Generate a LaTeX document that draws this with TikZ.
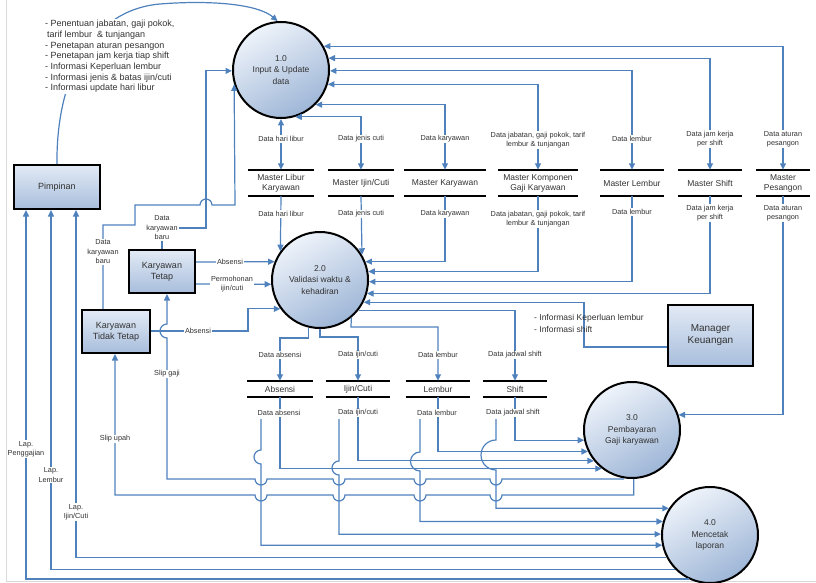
\documentclass[tikz,border=0pt]{standalone}
\usepackage{fontspec}
\setmainfont{Liberation Sans}
\usetikzlibrary{arrows.meta}
\definecolor{flowc}{RGB}{79,129,189}
\definecolor{txtc}{RGB}{50,50,50}
\definecolor{cirA}{RGB}{238,243,250}
\definecolor{cirB}{RGB}{158,182,215}
\definecolor{boxA}{RGB}{226,234,245}
\definecolor{boxB}{RGB}{168,190,220}
\begin{document}
\begin{tikzpicture}[x=1pt,y=-1pt,
  flow/.style={draw=flowc, line width=1.2pt},
  arr/.style={flow, -{Triangle[length=6.5pt,width=6pt]}},
  arrb/.style={flow, {Triangle[length=6.5pt,width=6pt]}-{Triangle[length=6.5pt,width=6pt]}},
  proc/.style={circle, draw=black, line width=2pt, minimum size=96pt, inner sep=0pt, align=center,
    font=\fontsize{8.5}{11.5}\selectfont, text=txtc, top color=cirA, bottom color=cirB, shading angle=30},
  ent/.style={rectangle, draw=black, line width=2.2pt, inner sep=0pt, align=center,
    font=\fontsize{9}{11}\selectfont, text=txtc, top color=boxA, bottom color=boxB},
  store/.style={inner sep=0pt, align=center, font=\fontsize{8.5}{10}\selectfont, text=txtc},
  lbl/.style={fill=white, inner sep=1pt, align=center, font=\fontsize{7.3}{9.5}\selectfont, text=txtc},
  sline/.style={draw=black, line width=2.2pt},
]
\useasboundingbox (0,0) rectangle (816,583);
\draw[gray!30, line width=1pt] (6,0) -- (6,581) -- (816,581);

% processes
\node[proc] (p1) at (281,70) {1.0\\Input \& Update\\data};
\node[proc] (p2) at (320,280) {2.0\\Validasi waktu \&\\kehadiran};
\node[proc] (p3) at (632,430) {3.0\\Pembayaran\\Gaji karyawan};
\node[proc] (p4) at (710,535) {4.0\\Mencetak\\laporan};

% entities
\node[ent, minimum width=86pt, minimum height=44pt] (pim) at (57,187) {Pimpinan};
\node[ent, minimum width=66pt, minimum height=43pt] (kt) at (162,271.5) {Karyawan\\Tetap};
\node[ent, minimum width=68pt, minimum height=43pt] (ktt) at (116,331.5) {Karyawan\\Tidak Tetap};
\node[ent, minimum width=85pt, minimum height=61pt, font=\fontsize{10}{12}\selectfont] (mk) at (710.5,335.5) {Manager\\Keuangan};

% stores
\node[store, minimum width=66pt, minimum height=26pt] (ms1) at (281,183) {Master Libur\\Karyawan};
\node[store, minimum width=65pt, minimum height=26pt] (ms2) at (361,183) {Master Ijin/Cuti};
\node[store, minimum width=81pt, minimum height=26pt] (ms3) at (445,183) {Master Karyawan};
\node[store, minimum width=79pt, minimum height=26pt] (ms4) at (538,183) {Master Komponen\\Gaji Karyawan};
\node[store, minimum width=64pt, minimum height=26pt] (ms5) at (632,183) {Master Lembur};
\node[store, minimum width=64pt, minimum height=26pt] (ms6) at (710,183) {Master Shift};
\node[store, minimum width=54pt, minimum height=26pt] (ms7) at (783,183) {Master\\Pesangon};
\node[store, minimum width=65pt, minimum height=16pt] (sb1) at (280,389) {Absensi};
\node[store, minimum width=64pt, minimum height=16pt] (sb2) at (358,389) {Ijin/Cuti};
\node[store, minimum width=64pt, minimum height=16pt] (sb3) at (438,389) {Lembur};
\node[store, minimum width=64pt, minimum height=16pt] (sb4) at (515,389) {Shift};
\foreach \s in {ms1,ms2,ms3,ms4,ms5,ms6,ms7,sb1,sb2,sb3,sb4}{
  \draw[sline] (\s.north west) -- (\s.north east);
  \draw[sline] (\s.south west) -- (\s.south east);
}

% master stores <-> 1.0
\draw[arrb] (ms1.north) -- (p1.south);
\draw[arrb] (ms2.north) |- (p1.-73);
\draw[arrb] (ms3.north) |- (p1.-45);
\draw[arrb] (ms4.north) |- (p1.-17);
\draw[arrb] (ms5.north) |- (p1.-1);
\draw[arrb] (ms6.north) |- (p1.14);
\draw[arrb] (ms7.north) |- (p1.29);

% master stores -> 2.0 / 3.0
\draw[arr] (ms1.south) -- (p2.144);
\draw[arr] (ms2.south) -- (p2.31);
\draw[arr] (ms3.south) |- (p2.22);
\draw[arr] (ms4.south) |- (p2.10);
\draw[arr] (ms5.south) |- (p2.-2);
\draw[arr] (ms6.south) |- (p2.-16);
\draw[arr] (ms7.south) |- (p3.18);
\draw[arr] (mk.west |- 0,347) -- (584,347) |- (p2.-27);

% entities -> processes
\draw[arr] (kt.east |- 0,262) -- (p2.158);
\draw[arr] (kt.east |- 0,284) -- (p2.185);
\draw[arr] (ktt.east |- 0,331) -- (248,331) |- (p2.216);
\draw[arr] (kt.north) -- (162,228) -- (206,228) |- (p1.181);
\draw[arr] (ktt.north -| 103,0) -- (103,225) -- (135,225) -- (135,205) -- (200,205)
   arc[start angle=180,end angle=0,radius=6pt] -- (235,205) -- (p1.197);
\draw[arr] (pim.north) .. controls (56,80) and (90,10) .. (160,4) .. controls (210,0) and (258,4) .. (p1.94);

% 2.0 -> bottom stores
\draw[arr] (p2.-104) -- ++(0,10.4) -| (sb1.north);
\draw[arr] (p2.-90) -- (320,337) -| (sb2.north);
\draw[arr] (p2.-50) -- (350.9,327) -| (sb3.north);
\draw[arr] (p2.-38) -| (sb4.north);

% bottom stores -> 3.0
\draw[arr] (sb1.south) |- (p3.232);
\draw[arr] (sb2.south) |- (p3.219);
\draw[arr] (sb3.south) |- (p3.206);
\draw[arr] (sb4.south) |- (p3.192);

% bottom stores -> 4.0
\coordinate (b1) at (261,419);
\coordinate (b2) at (339,419);
\coordinate (b3) at (420,419);
\coordinate (b4) at (496,419);
\draw[arr] (b1) -- (261,450) arc[start angle=90,end angle=270,radius=7pt] |- (p4.192);
\draw[arr] (b2) -- (339,461) arc[start angle=90,end angle=270,radius=7pt] |- (p4.179);
\draw[arr] (b3) -- (420,452) arc[start angle=90,end angle=270,radius=9.5pt] |- (p4.164);
\draw[arr] (b4) -- (496,440) arc[start angle=90,end angle=270,radius=15pt] |- (p4.147);

% 3.0 -> employees (slips)
\draw[arr] (p3.-100) |- (502,479) arc[start angle=0,end angle=-180,radius=6pt]
   -- (426,479) arc[start angle=0,end angle=-180,radius=6pt]
   -- (345,479) arc[start angle=0,end angle=-180,radius=6pt]
   -- (267,479) arc[start angle=0,end angle=-180,radius=6pt]
   -- (167,479) -- (167,338) arc[start angle=270,end angle=90,radius=7pt] -- (kt.south -| 167,0);
\draw[arr] (p3.-88) |- (502,495) arc[start angle=0,end angle=-180,radius=6pt]
   -- (426,495) arc[start angle=0,end angle=-180,radius=6pt]
   -- (345,495) arc[start angle=0,end angle=-180,radius=6pt]
   -- (267,495) arc[start angle=0,end angle=-180,radius=6pt]
   -- (115,495) -- (ktt.south -| 115,0);

% 4.0 -> Pimpinan
\draw[arr] (p4.207) -| (pim.south -| 76,0);
\draw[arr] (p4.225) -| (pim.south -| 51,0);
\draw[arr] (p4.244) -| (pim.south -| 26,0);

% labels: top stores
\node[lbl] (la1) at (281,139) {Data hari libur};
\node[lbl] (la2) at (361,139) {Data jenis cuti};
\node[lbl] (la3) at (445,139) {Data karyawan};
\node[lbl] (la4) at (538,140) {Data jabatan, gaji pokok, tarif\\lembur \& tunjangan};
\node[lbl] (la5) at (632,139) {Data lembur};
\node[lbl] (la6) at (710,139) {Data jam kerja\\per shift};
\node[lbl] (la7) at (783,139) {Data aturan\\pesangon};
\node[lbl] (lb1) at (281,214) {Data hari libur};
\node[lbl] (lb2) at (361,214) {Data jenis cuti};
\node[lbl] (lb3) at (445,214) {Data karyawan};
\node[lbl] (lb4) at (538,219) {Data jabatan, gaji pokok, tarif\\lembur \& tunjangan};
\node[lbl] (lb5) at (632,212) {Data lembur};
\node[lbl] (lb6) at (710,213) {Data jam kerja\\per shift};
\node[lbl] (lb7) at (783,213) {Data aturan\\pesangon};

% labels: entities
\node[lbl] (le1) at (230,262) {Absensi};
\node[lbl] (le2) at (232,284) {Permohonan\\ijin/cuti};
\node[lbl] (le3) at (198,331) {Absensi};
\node[lbl] (le4) at (162,228) {Data\\karyawan\\baru};
\node[lbl] (le5) at (103,252) {Data\\karyawan\\baru};
\node[lbl] (le6) at (167,374) {Slip gaji};
\node[lbl] (le7) at (115,439) {Slip upah};
\node[lbl] (le8) at (26,449) {Lap.\\Penggajian};
\node[lbl] (le9) at (51,475) {Lap.\\Lembur};
\node[lbl] (le10) at (76,512) {Lap.\\Ijin/Cuti};

% labels: bottom stores
\node[lbl] (lc1) at (280,355) {Data absensi};
\node[lbl] (lc2) at (358,355) {Data ijin/cuti};
\node[lbl] (lc3) at (438,355) {Data lembur};
\node[lbl] (lc4) at (515,355) {Data jadwal shift};
\node[lbl] (ld1) at (279,413) {Data absensi};
\node[lbl] (ld2) at (358,413) {Data ijin/cuti};
\node[lbl] (ld3) at (437,413) {Data lembur};
\node[lbl] (ld4) at (513,413) {Data jadwal shift};

% manager info
\node[anchor=west, align=left, inner sep=0pt, font=\fontsize{8.5}{12}\selectfont, text=txtc] (mtxt) at (534,323)
  {- Informasi Keperluan lembur\\- Informasi shift};

% pimpinan info
\node[anchor=north west, fill=white, inner sep=1pt, align=left, font=\fontsize{9}{10.7}\selectfont, text=txtc] (info) at (44,19)
  {- Penentuan jabatan, gaji pokok,\\\hspace{2pt}tarif lembur \ \& tunjangan\\- Penetapan aturan pesangon\\- Penetapan jam kerja tiap shift\\- Informasi Keperluan lembur\\- Informasi jenis \& batas ijin/cuti\\- Informasi update hari libur};
\end{tikzpicture}
\end{document}
